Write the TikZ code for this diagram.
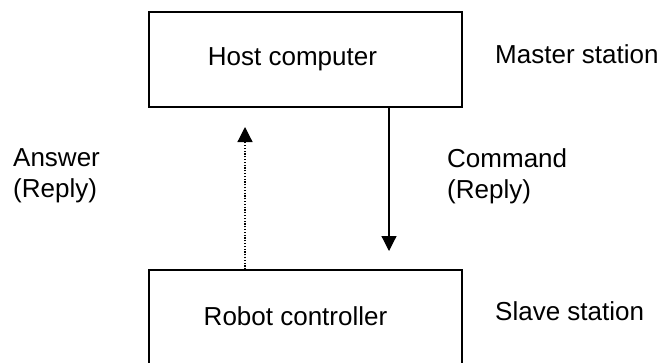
\documentclass[tikz,border=0pt]{standalone}
\usepackage{fontspec}
\setmainfont{Liberation Sans}
\usetikzlibrary{arrows.meta}
\begin{document}
\begin{tikzpicture}[x=1pt,y=1pt,
  box/.style={draw=black,line width=1.2pt,minimum width=313pt,minimum height=95pt,inner sep=0pt},
  txt/.style={inner sep=0pt,font=\fontsize{26}{31}\selectfont},
  arr/.style={line width=1.2pt,-{Triangle[length=15pt,width=15pt]}},
  dotline/.style={dash pattern=on 1.2pt off 1.6pt}]
\clip (0,0) rectangle (663,-362);
\fill[white] (0,0) rectangle (663,-362);
\node[box] (host) at (305.5,-59.5) {};
\node[box] (robot) at (305.5,-317.5) {};
\node[txt,anchor=base] (hostt) at (292.5,-65) {Host computer};
\node[txt,anchor=base] (robott) at (295.5,-325) {Robot controller};
\node[txt,anchor=base west] (master) at (495,-63) {Master station};
\node[txt,anchor=base west] (slave) at (495,-320) {Slave station};
\node[txt,anchor=north west,align=left] (answer) at (13,-148) {Answer\\(Reply)};
\node[txt,anchor=north west,align=left] (command) at (447,-148) {Command\\(Reply)};
\coordinate (ctip) at (389,-251);
\coordinate (atip) at (245,-127);
\draw[arr] (host.south -| ctip) -- (ctip);
\draw[arr,dotline] (robot.north -| atip) -- (atip);
\end{tikzpicture}
\end{document}
